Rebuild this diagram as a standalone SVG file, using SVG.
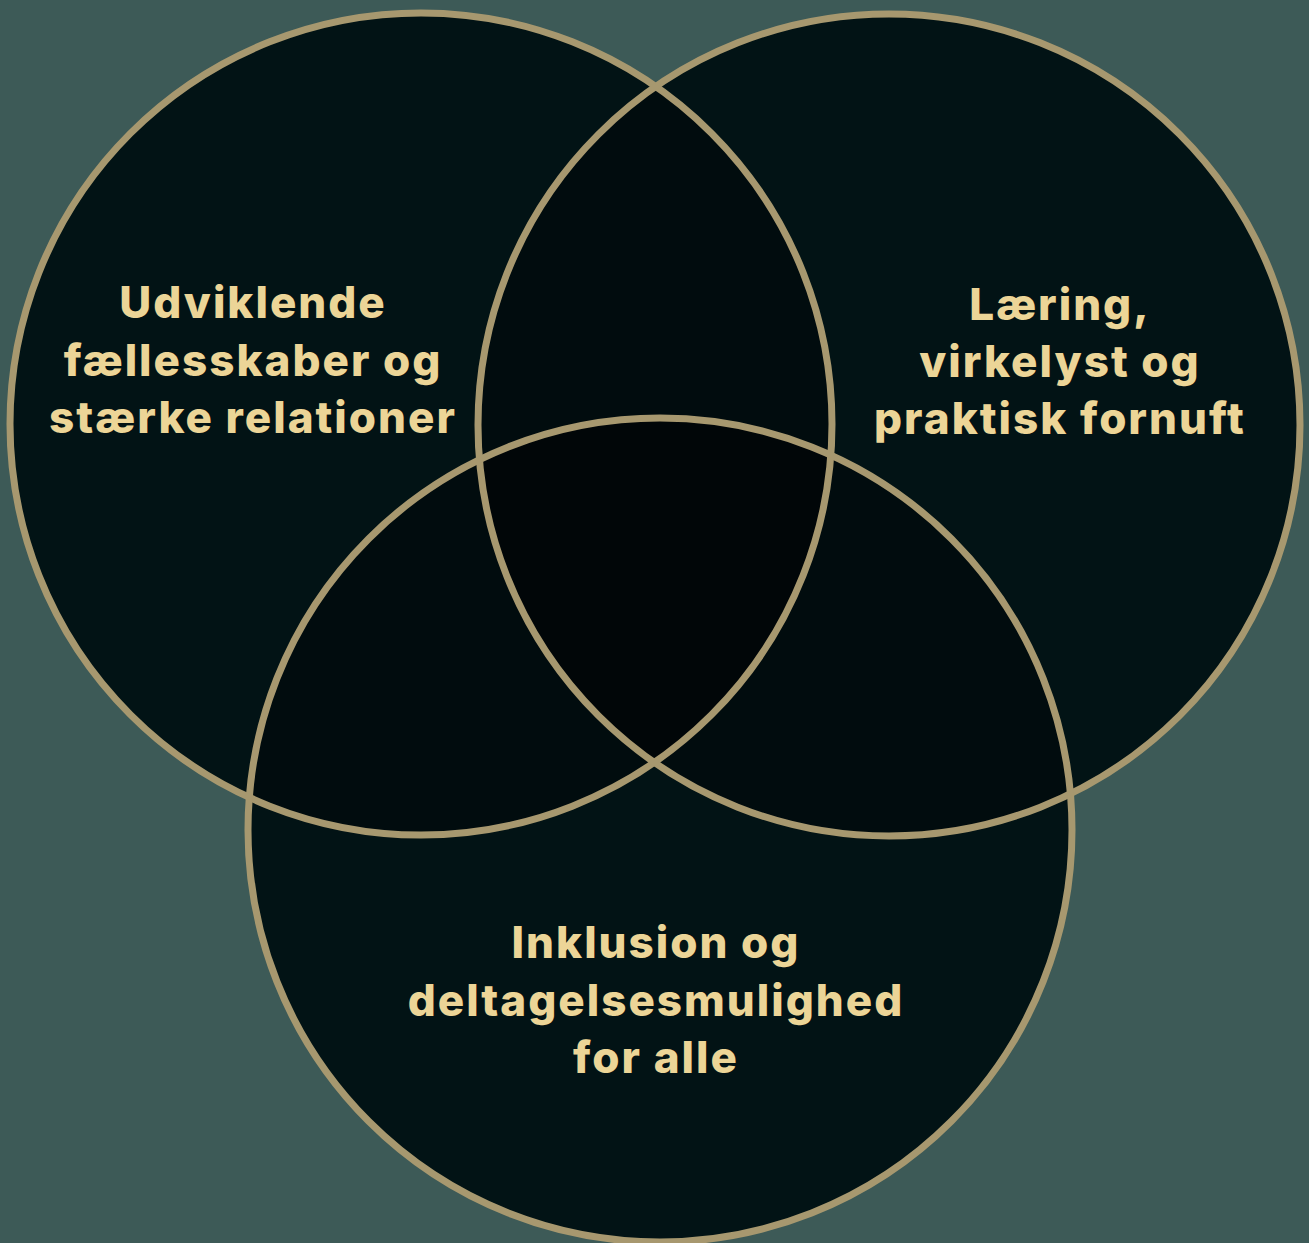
<svg xmlns="http://www.w3.org/2000/svg" width="1309" height="1243" viewBox="0 0 1309 1243">
<style>
.c{fill:#021315;stroke:none}
.o{fill:none;stroke:#a7986f;stroke-width:7}
.t{font-family:Inter,"Noto Sans",sans-serif;font-weight:800;font-size:44px;letter-spacing:2px;fill:#ecd597;text-anchor:middle}
</style>
<defs>
<clipPath id="cA"><circle cx="421" cy="424" r="411"/></clipPath>
<clipPath id="cB"><circle cx="889" cy="425" r="411"/></clipPath>
</defs>
<rect width="1309" height="1243" fill="#3d5a57"/>
<g id="fills">
<circle class="c" cx="421" cy="424" r="411"/>
<circle class="c" cx="889" cy="425" r="411"/>
<circle class="c" cx="660" cy="830" r="412"/>
<g clip-path="url(#cA)"><circle cx="889" cy="425" r="411" fill="#010c0e"/><circle cx="660" cy="830" r="412" fill="#010c0e"/></g>
<g clip-path="url(#cB)"><circle cx="660" cy="830" r="412" fill="#010c0e"/></g>
<g clip-path="url(#cA)"><g clip-path="url(#cB)"><circle cx="660" cy="830" r="412" fill="#010608"/></g></g>
</g>
<g id="node-left"><circle class="o" cx="421" cy="424" r="411"/>
<text class="t" x="253" y="318">Udviklende</text><text class="t" x="253" y="376">fællesskaber og</text><text class="t" x="253" y="433">stærke relationer</text></g>
<g id="node-right"><circle class="o" cx="889" cy="425" r="411"/>
<text class="t" x="1060" y="320">Læring,</text><text class="t" x="1060" y="377">virkelyst og</text><text class="t" x="1060" y="434">praktisk fornuft</text></g>
<g id="node-bottom"><circle class="o" cx="660" cy="830" r="412"/>
<text class="t" x="656" y="958">Inklusion og</text><text class="t" x="656" y="1016">deltagelsesmulighed</text><text class="t" x="656" y="1073">for alle</text></g>
<g id="connectors"/>
</svg>
